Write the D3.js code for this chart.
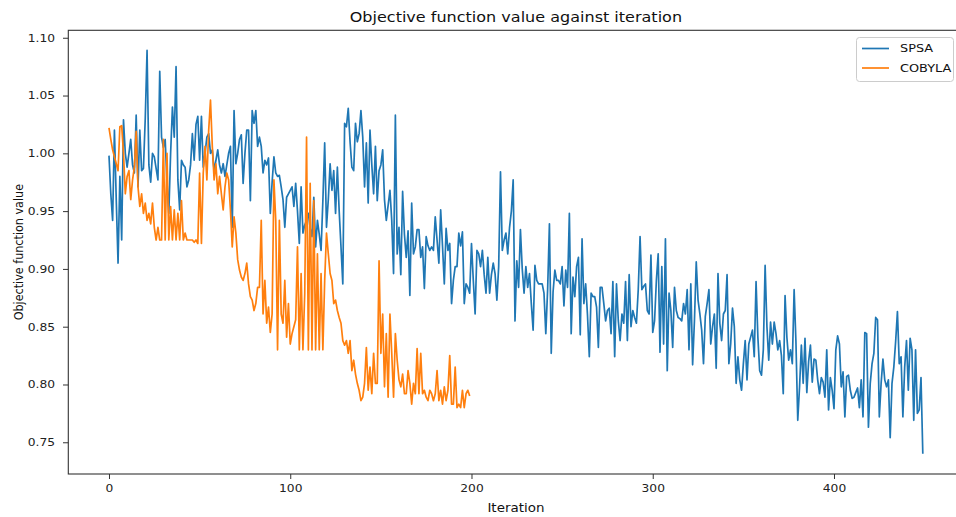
<!DOCTYPE html>
<html>
<head>
<meta charset="utf-8">
<script src="https://cdn.jsdelivr.net/npm/d3@7"></script>
<style>
  body { margin: 0; background: #fff; }
  svg { display: block; font-family: "DejaVu Sans", sans-serif; }
</style>
</head>
<body>
<svg id="chart"></svg>
<script>
const spsa = [
  0.998,0.965,0.942,1.020,0.960,0.905,0.980,0.925,1.029,1.000,
  0.988,1.000,1.012,0.990,0.983,1.033,0.971,1.020,0.985,0.987,
  1.030,1.089,0.990,0.975,1.000,0.997,0.987,0.977,1.071,1.014,
  1.005,1.012,0.975,0.948,1.000,1.040,1.014,1.075,0.977,0.951,
  0.994,0.990,0.988,0.971,0.977,0.990,1.017,0.994,1.025,1.032,
  0.994,1.032,0.988,1.000,1.014,1.017,1.000,1.003,0.985,0.994,
  1.003,0.990,0.983,0.991,0.980,0.990,1.000,1.006,0.936,1.037,
  0.991,1.000,1.012,1.016,0.974,1.000,1.020,1.020,0.959,1.037,
  1.026,1.037,1.006,1.014,1.006,0.983,0.994,0.990,0.996,0.948,
  0.975,0.997,0.983,0.980,0.981,0.971,0.960,0.936,0.962,0.965,
  0.968,0.971,0.954,0.974,0.950,0.922,0.971,0.931,0.938,0.942,
  0.948,0.935,0.928,0.962,0.919,0.942,0.930,0.916,0.959,1.009,
  0.936,0.960,0.991,0.968,0.985,0.948,0.988,0.950,0.919,0.887,
  1.026,1.023,1.039,1.010,0.988,0.985,1.026,1.010,1.017,1.037,
  1.014,0.971,1.009,0.957,1.020,0.990,0.965,1.006,0.959,0.985,
  0.990,1.003,0.960,0.942,0.955,0.968,0.942,0.896,1.033,0.913,
  0.936,0.895,0.967,0.930,0.910,0.933,0.877,0.957,0.913,0.919,
  0.934,0.934,0.910,0.919,0.883,0.928,0.920,0.916,0.919,0.916,
  0.945,0.925,0.905,0.951,0.920,0.887,0.935,0.916,0.922,0.870,
  0.890,0.902,0.902,0.931,0.920,0.932,0.870,0.887,0.884,0.879,
  0.922,0.890,0.861,0.916,0.913,0.902,0.916,0.895,0.879,0.910,
  0.879,0.895,0.905,0.896,0.873,0.902,0.984,0.916,0.925,0.931,
  0.913,0.936,0.950,0.977,0.855,0.907,0.884,0.934,0.900,0.879,
  0.902,0.884,0.896,0.870,0.847,0.903,0.890,0.887,0.887,0.887,
  0.879,0.844,0.882,0.939,0.827,0.880,0.899,0.890,0.890,0.887,
  0.902,0.868,0.899,0.884,0.948,0.844,0.893,0.876,0.902,0.910,
  0.843,0.926,0.870,0.887,0.860,0.824,0.879,0.876,0.876,0.867,
  0.832,0.884,0.884,0.870,0.855,0.864,0.866,0.844,0.889,0.824,
  0.887,0.855,0.838,0.861,0.853,0.889,0.838,0.895,0.850,0.864,
  0.858,0.853,0.882,0.928,0.882,0.885,0.887,0.864,0.861,0.912,
  0.845,0.855,0.890,0.913,0.828,0.902,0.835,0.926,0.812,0.879,
  0.864,0.832,0.884,0.864,0.858,0.857,0.855,0.870,0.861,0.882,
  0.830,0.887,0.817,0.855,0.906,0.873,0.861,0.847,0.818,0.859,
  0.870,0.882,0.835,0.850,0.861,0.814,0.896,0.853,0.838,0.861,
  0.864,0.895,0.818,0.835,0.866,0.850,0.801,0.824,0.804,0.795,
  0.818,0.838,0.804,0.835,0.841,0.847,0.824,0.889,0.841,0.812,
  0.808,0.830,0.903,0.850,0.821,0.854,0.835,0.854,0.844,0.830,
  0.838,0.825,0.792,0.877,0.841,0.821,0.830,0.818,0.882,0.837,
  0.769,0.798,0.834,0.801,0.840,0.793,0.820,0.834,0.802,0.822,
  0.821,0.804,0.792,0.806,0.802,0.789,0.830,0.778,0.806,0.795,
  0.779,0.830,0.842,0.835,0.798,0.811,0.772,0.807,0.808,0.795,
  0.788,0.789,0.793,0.797,0.780,0.804,0.772,0.845,0.844,0.763,
  0.801,0.818,0.827,0.858,0.856,0.772,0.801,0.822,0.804,0.798,
  0.804,0.754,0.801,0.815,0.837,0.863,0.818,0.824,0.772,0.815,
  0.838,0.795,0.840,0.830,0.769,0.830,0.775,0.778,0.806,0.740
]

const cobyla = [
  1.022,1.012,1.003,0.997,0.991,0.985,1.023,1.024,1.000,0.965,
  0.980,0.985,0.960,0.977,0.988,1.019,0.971,0.954,0.965,0.948,
  0.957,0.942,0.948,0.939,0.957,0.936,0.925,0.936,0.925,0.925,
  1.012,0.925,1.000,0.925,0.954,0.925,0.951,0.925,0.948,0.925,
  0.959,0.925,0.931,0.925,0.925,0.925,0.925,0.923,0.925,0.922,
  0.983,0.922,0.983,1.006,0.977,1.020,1.046,1.006,0.977,0.991,
  0.965,
  0.980,0.965,0.951,0.971,0.983,0.977,0.951,0.919,0.945,0.931,
  0.908,0.899,0.893,0.890,0.896,0.905,0.887,0.876,0.873,0.864,
  0.870,0.884,0.884,0.942,0.861,0.890,0.853,0.867,0.845,0.861,
  0.977,0.942,0.830,0.942,0.861,0.853,0.890,0.841,0.870,0.835,
  0.844,0.850,0.856,0.919,0.830,0.896,0.830,0.879,1.014,0.830,
  0.974,0.830,0.959,0.830,0.913,0.830,0.896,0.830,0.890,0.931,
  0.913,0.896,0.890,0.870,0.873,0.864,0.858,0.853,0.838,0.834,
  0.838,0.827,0.838,0.812,0.821,0.809,0.801,0.795,0.786,0.789,
  0.801,0.832,0.795,0.815,0.792,0.827,0.801,0.801,0.907,0.827,
  0.861,0.798,0.844,0.789,0.861,0.827,0.789,0.844,0.821,0.804,
  0.798,0.809,0.792,0.792,0.812,0.801,0.783,0.801,0.792,0.831,
  0.792,0.827,0.792,0.795,0.789,0.786,0.795,0.792,0.786,0.792,
  0.812,0.786,0.795,0.783,0.798,0.786,0.795,0.825,0.783,0.783,
  0.815,0.780,0.783,0.780,0.795,0.780,0.792,0.795,0.790
]

const seriesNames = ["SPSA", "COBYLA"]
const seriesColors = ["#1f77b4", "#ff7f0e"]
const xTicks = [0, 100, 200, 300, 400]
const yTicks = [0.75, 0.80, 0.85, 0.90, 0.95, 1.00, 1.05, 1.10]

const width = 956
const height = 517
const margin = {left: 68.3, right: 963.5, top: 30.3, bottom: 474}
// the picture is a bit wider than tall, so text gets stretched sideways too
const sx = 1.17

const series = [spsa, cobyla]
const maxLen = d3.max(series, s => s.length) - 1
const xPad = maxLen * 0.05
const yMin = d3.min(series, s => d3.min(s))
const yMax = d3.max(series, s => d3.max(s))
const yPad = (yMax - yMin) * 0.05

const x = d3.scaleLinear().domain([-xPad, maxLen + xPad]).range([margin.left, margin.right])
const y = d3.scaleLinear().domain([yMin - yPad, yMax + yPad]).range([margin.bottom, margin.top])

const svg = d3.select("#chart")
    .attr("width", width)
    .attr("height", height)
    .attr("viewBox", `0 0 ${width} ${height}`)

svg.append("rect").attr("width", width).attr("height", height).attr("fill", "#fff")

const line = d3.line()
    .x((d, i) => x(i))
    .y(d => y(d))

const plot = svg.append("g")
plot.append("clipPath").attr("id", "clip")
    .append("rect")
    .attr("x", margin.left).attr("y", margin.top)
    .attr("width", margin.right - margin.left).attr("height", margin.bottom - margin.top)

plot.append("g")
    .attr("clip-path", "url(#clip)")
    .selectAll("path")
    .data(series)
    .join("path")
    .attr("fill", "none")
    .attr("stroke", (d, i) => seriesColors[i])
    .attr("stroke-width", 1.7)
    .attr("stroke-linejoin", "round")
    .attr("d", line)

// frame
svg.append("rect")
    .attr("x", margin.left).attr("y", margin.top)
    .attr("width", margin.right - margin.left).attr("height", margin.bottom - margin.top)
    .attr("fill", "none")
    .attr("stroke", "#333")
    .attr("stroke-width", 1.1)

const xAxis = svg.append("g")
    .attr("transform", `translate(0,${margin.bottom})`)
    .call(d3.axisBottom(x).tickValues(xTicks).tickSize(5).tickPadding(6).tickFormat(d3.format("d")))
xAxis.select(".domain").remove()

const yAxis = svg.append("g")
    .attr("transform", `translate(${margin.left},0)`)
    .call(d3.axisLeft(y).tickValues(yTicks).tickSize(5.3).tickPadding(8).tickFormat(d3.format(".2f")))
yAxis.select(".domain").remove()

svg.selectAll(".tick line").attr("stroke", "#333")
svg.selectAll(".tick text")
    .attr("fill", "#222")
    .style("font-size", "10.5px")
    .style("font-family", "DejaVu Sans, sans-serif")
    .style("transform-box", "fill-box")
xAxis.selectAll(".tick text")
    .style("transform-origin", "center")
    .style("transform", `scaleX(${sx})`)
yAxis.selectAll(".tick text")
    .style("transform-origin", "right center")
    .style("transform", `scaleX(${sx})`)

const cx = (margin.left + margin.right) / 2

svg.append("text")
    .attr("transform", `translate(${cx},22) scale(${sx},1)`)
    .attr("text-anchor", "middle")
    .attr("fill", "#111")
    .style("font-size", "13.7px")
    .text("Objective function value against iteration")

svg.append("text")
    .attr("transform", `translate(${cx},512) scale(${sx},1)`)
    .attr("text-anchor", "middle")
    .attr("fill", "#111")
    .style("font-size", "11.5px")
    .text("Iteration")

svg.append("text")
    .attr("transform", `translate(22.5,${(margin.top + margin.bottom) / 2}) scale(${sx},1) rotate(-90)`)
    .attr("text-anchor", "middle")
    .attr("fill", "#111")
    .style("font-size", "11.2px")
    .text("Objective function value")

const legend = svg.append("g")
legend.append("rect")
    .attr("x", 856.5).attr("y", 37.5)
    .attr("width", 97).attr("height", 44)
    .attr("rx", 3)
    .attr("fill", "#fff")
    .attr("fill-opacity", 0.8)
    .attr("stroke", "#ccc")

const item = legend.selectAll("g.item")
    .data(seriesNames)
    .join("g")
    .attr("class", "item")
    .attr("transform", (d, i) => `translate(862,${48.5 + i * 19.5})`)

item.append("line")
    .attr("x1", 0).attr("x2", 27)
    .attr("stroke", (d, i) => seriesColors[i])
    .attr("stroke-width", 1.7)

item.append("text")
    .attr("transform", `translate(38,0) scale(${sx},1)`)
    .attr("dy", "0.35em")
    .attr("fill", "#111")
    .style("font-size", "11px")
    .text(d => d)
</script>
</body>
</html>
